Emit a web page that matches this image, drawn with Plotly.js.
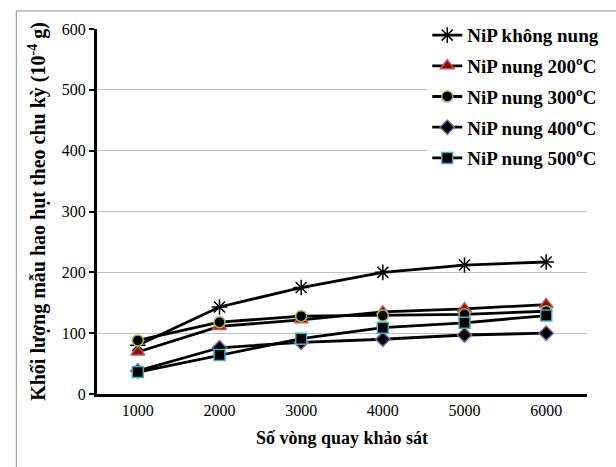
<!DOCTYPE html>
<html>
<head>
<meta charset="utf-8">
<script src="https://cdn.plot.ly/plotly-3.0.1.min.js"></script>
<style>html,body{margin:0;padding:0;background:#fff;}#chart{width:616px;height:467px;}</style>
</head>
<body>
<div id="chart"></div>
<script>
const categories = ['1000', '2000', '3000', '4000', '5000', '6000'];
const seriesNames = ['NiP không nung', 'NiP nung 200<sup>o</sup>C', 'NiP nung 300<sup>o</sup>C', 'NiP nung 400<sup>o</sup>C', 'NiP nung 500<sup>o</sup>C'];
const nipKhongNung = [80, 143, 175, 200, 212, 217];
const nip200 = [69, 111, 122, 135, 140, 147];
const nip300 = [88, 118, 128, 129, 131, 136];
const nip400 = [38, 76, 85, 90, 97, 100];
const nip500 = [36, 64, 91, 109, 117, 129];
const yTicks = [0, 100, 200, 300, 400, 500, 600];

const seriesValues = [nipKhongNung, nip200, nip300, nip400, nip500];
const symbols = ['asterisk-open', 'triangle-up', 'circle', 'diamond', 'square'];
const fills = ['#000000', '#7a1414', '#000000', '#000000', '#000000'];
const outlines = ['#000000', '#d05050', '#9bbb59', '#8064a2', '#4bacc6'];
const sizes = [13, 12, 11, 11, 11];

const traces = seriesValues.map((vals, i) => ({
  type: 'scatter',
  mode: 'lines+markers',
  x: categories,
  y: vals,
  name: seriesNames[i],
  legendgroup: 'g' + i,
  line: {color: '#000000', width: 2.8},
  marker: {symbol: symbols[i], size: sizes[i], color: fills[i],
           line: {color: outlines[i], width: 1.5}}
}));

const layout = {
  width: 616, height: 467,
  margin: {l: 97, r: 15, t: 29, b: 73},
  paper_bgcolor: '#ffffff', plot_bgcolor: '#ffffff',
  font: {family: '"Liberation Serif", "Times New Roman", serif', color: '#000000', size: 16},
  showlegend: true,
  legend: {
    x: 0.674, y: 1.035, xanchor: 'left', yanchor: 'top',
    bgcolor: 'rgba(255,255,255,1)',
    font: {family: '"Liberation Serif", serif', size: 19, color: '#000000', weight: 'bold'},
    tracegroupgap: 3,
    itemwidth: 30
  },
  xaxis: {
    type: 'category',
    range: [-0.5, 5.5],
    showline: true, linecolor: '#000000', linewidth: 3,
    showgrid: false, zeroline: false,
    ticks: '', tickfont: {size: 16},
    title: {text: '<b>Số vòng quay khảo sát</b>', font: {size: 18}, standoff: 14}
  },
  yaxis: {
    range: [0, 600],
    tickvals: yTicks,
    showline: true, linecolor: '#000000', linewidth: 3,
    showgrid: true, gridcolor: '#c0c0c0', gridwidth: 1,
    zeroline: false,
    ticks: 'outside', ticklen: 5, tickwidth: 2, tickcolor: '#000000',
    tickfont: {size: 16},
    title: {text: '<b>Khối lượng mẫu hao hụt theo chu kỳ (10<sup>-4</sup> g)</b>', font: {size: 20}, standoff: 11}
  },
  shapes: [{
    type: 'rect', xref: 'paper', yref: 'paper',
    x0: -0.1647, x1: 1.2, y0: -0.4, y1: 1.0493,
    line: {color: '#8c8c8c', width: 1}, fillcolor: 'rgba(0,0,0,0)', layer: 'below'
  }]
};

Plotly.newPlot('chart', traces, layout, {displayModeBar: false, staticPlot: true});
</script>
</body>
</html>
